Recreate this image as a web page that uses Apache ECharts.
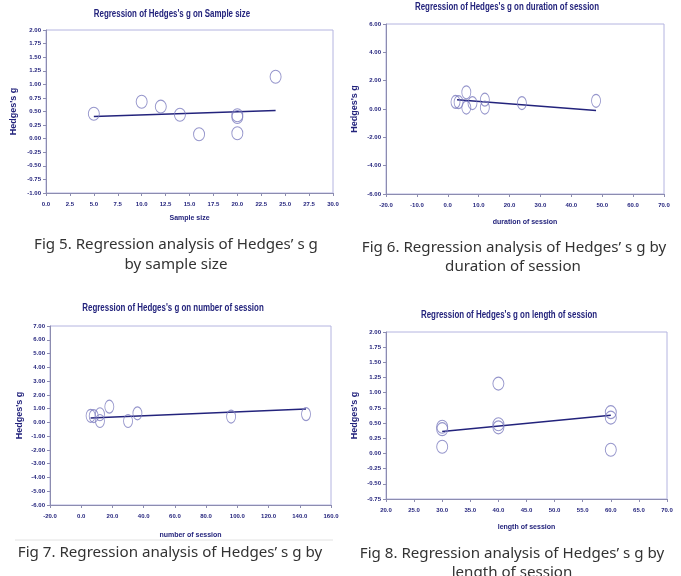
<!DOCTYPE html>
<html>
<head>
<meta charset="utf-8">
<script src="https://cdn.jsdelivr.net/npm/echarts@6/dist/echarts.min.js"></script>
<style>
html,body{margin:0;padding:0;background:#fff;}
#c{width:681px;height:576px;}
</style>
</head>
<body>
<div id="c"></div>
<script>
// ---- Fig 5: sample size ----
const sampleSizeX = [5, 10, 12, 14, 16, 20, 20, 20, 24];
const sampleSizeG = [0.46, 0.68, 0.59, 0.44, 0.08, 0.43, 0.40, 0.10, 1.14];
const sampleSizeFitX = [5, 24];
const sampleSizeFitG = [0.41, 0.52];

// ---- Fig 6: duration of session ----
const durationX = [2.5, 3.5, 6, 6, 8, 12, 12, 24, 48];
const durationG = [0.50, 0.48, 1.18, 0.10, 0.42, 0.66, 0.10, 0.42, 0.58];
const durationFitX = [3, 48];
const durationFitG = [0.66, -0.10];

// ---- Fig 7: number of session ----
const numberX = [6, 8, 12, 12, 18, 30, 36, 96, 144];
const numberG = [0.48, 0.46, 0.59, 0.10, 1.14, 0.10, 0.66, 0.42, 0.60];
const numberFitX = [6, 144];
const numberFitG = [0.31, 0.97];

// ---- Fig 8: length of session ----
const lengthX = [30, 30, 30, 40, 40, 40, 60, 60, 60];
const lengthG = [0.44, 0.40, 0.11, 1.15, 0.48, 0.43, 0.68, 0.59, 0.06];
const lengthFitX = [30, 60];
const lengthFitG = [0.36, 0.63];

// ---- text ----
const chartTitles = [
  "Regression of Hedges's g on Sample size",
  "Regression of Hedges's g on duration of session",
  "Regression of Hedges's g on number of session",
  "Regression of Hedges's g on length of session"
];
const xNames = ["Sample size", "duration of session", "number of session", "length of session"];
const yName = "Hedges's g";
const captions = [
  ["Fig 5. Regression analysis of Hedges\u2019 s g", "by sample size"],
  ["Fig 6. Regression analysis of Hedges\u2019 s g by", "duration of session"],
  ["Fig 7. Regression analysis of Hedges\u2019 s g by"],
  ["Fig 8. Regression analysis of Hedges\u2019 s g by", "length of session"]
];

// ---- axis ranges ----
const xRanges = [[0, 30, 2.5], [-20, 70, 10], [-20, 160, 20], [20, 70, 5]];
const yRanges = [[-1, 2, 0.25], [-6, 6, 2], [-6, 7, 1], [-0.75, 2, 0.25]];

// ---- layout (pixels) ----
const grids = [
  {left: 46, top: 30, width: 287, height: 163},
  {left: 386, top: 24, width: 278, height: 170},
  {left: 50, top: 326, width: 281, height: 179},
  {left: 386, top: 332, width: 281, height: 167}
];
const titlePos = [[172, 14], [507, 7], [173, 308], [509, 315]];
const capPos = [[[176, 245], [176, 265]], [[514, 248], [513, 267]], [[170, 553]], [[512, 554], [512, 573]]];
const xNameGap = [22, 25, 27, 25];
const yNameGap = [28, 27, 26, 27];
const symSizes = [[11, 13], [9, 13], [9, 13], [11, 13]];

const NAVY = '#23237c';
const AXIS = '#8c8cb0';
const FRAME = '#b4b4e0';
const CIRC = '#7a7abe';
const SANS = "'Liberation Sans',Arial,sans-serif";

const pointSets = [
  [sampleSizeX, sampleSizeG, sampleSizeFitX, sampleSizeFitG],
  [durationX, durationG, durationFitX, durationFitG],
  [numberX, numberG, numberFitX, numberFitG],
  [lengthX, lengthG, lengthFitX, lengthFitG]
];

const option = {
  animation: false,
  backgroundColor: '#ffffff',
  grid: grids.map(g => Object.assign({
    show: true, borderColor: FRAME, borderWidth: 1, backgroundColor: 'transparent'
  }, g)),
  xAxis: xRanges.map((r, i) => ({
    type: 'value', gridIndex: i, min: r[0], max: r[1], interval: r[2],
    name: xNames[i], nameLocation: 'middle', nameGap: xNameGap[i],
    nameTextStyle: {color: NAVY, fontFamily: SANS, fontWeight: 'bold', fontSize: 7},
    axisLine: {show: true, onZero: false, lineStyle: {color: AXIS, width: 1}},
    axisTick: {show: true, length: 3, lineStyle: {color: AXIS}},
    splitLine: {show: false},
    axisLabel: {color: NAVY, fontFamily: SANS, fontWeight: 'bold', fontSize: 6, margin: 8,
      formatter: v => v.toFixed(1)}
  })),
  yAxis: yRanges.map((r, i) => ({
    type: 'value', gridIndex: i, min: r[0], max: r[1], interval: r[2],
    name: yName, nameLocation: 'middle', nameGap: yNameGap[i], nameRotate: 90,
    nameTextStyle: {color: NAVY, fontFamily: SANS, fontWeight: 'bold', fontSize: 9},
    axisLine: {show: true, onZero: false, lineStyle: {color: AXIS, width: 1}},
    axisTick: {show: true, length: 3, lineStyle: {color: AXIS}},
    splitLine: {show: false},
    axisLabel: {color: NAVY, fontFamily: SANS, fontWeight: 'bold', fontSize: 6, margin: 5,
      formatter: v => v.toFixed(2)}
  })),
  series: [],
  graphic: []
};

pointSets.forEach((p, i) => {
  option.series.push({
    type: 'line', xAxisIndex: i, yAxisIndex: i,
    data: p[2].map((x, k) => [x, p[3][k]]),
    symbol: 'none', lineStyle: {color: NAVY, width: 1.5}, z: 2
  });
  option.series.push({
    type: 'scatter', xAxisIndex: i, yAxisIndex: i,
    data: p[0].map((x, k) => [x, p[1][k]]),
    symbol: 'circle', symbolSize: symSizes[i],
    itemStyle: {color: 'rgba(0,0,0,0)', borderColor: CIRC, borderWidth: 1}, z: 3
  });
});

chartTitles.forEach((t, i) => {
  option.graphic.push({
    type: 'text', x: titlePos[i][0], y: titlePos[i][1], scaleX: 0.72,
    style: {text: t, fill: NAVY, font: "bold 11px " + SANS,
      textAlign: 'center', textVerticalAlign: 'middle', align: 'center', verticalAlign: 'middle'}
  });
});

captions.forEach((lines, i) => {
  lines.forEach((ln, k) => {
    option.graphic.push({
      type: 'text', x: capPos[i][k][0], y: capPos[i][k][1], scaleX: 1.08,
      style: {text: ln, fill: '#333333', font: "14px 'Noto Sans',sans-serif",
        textAlign: 'center', textVerticalAlign: 'middle', align: 'center', verticalAlign: 'middle'}
    });
  });
});

option.graphic.push({
  type: 'line', shape: {x1: 15, y1: 540, x2: 333, y2: 540},
  style: {stroke: '#e2e2e2', lineWidth: 1}
});

const chart = echarts.init(document.getElementById('c'), null, {renderer: 'canvas'});
chart.setOption(option);
</script>
</body>
</html>
